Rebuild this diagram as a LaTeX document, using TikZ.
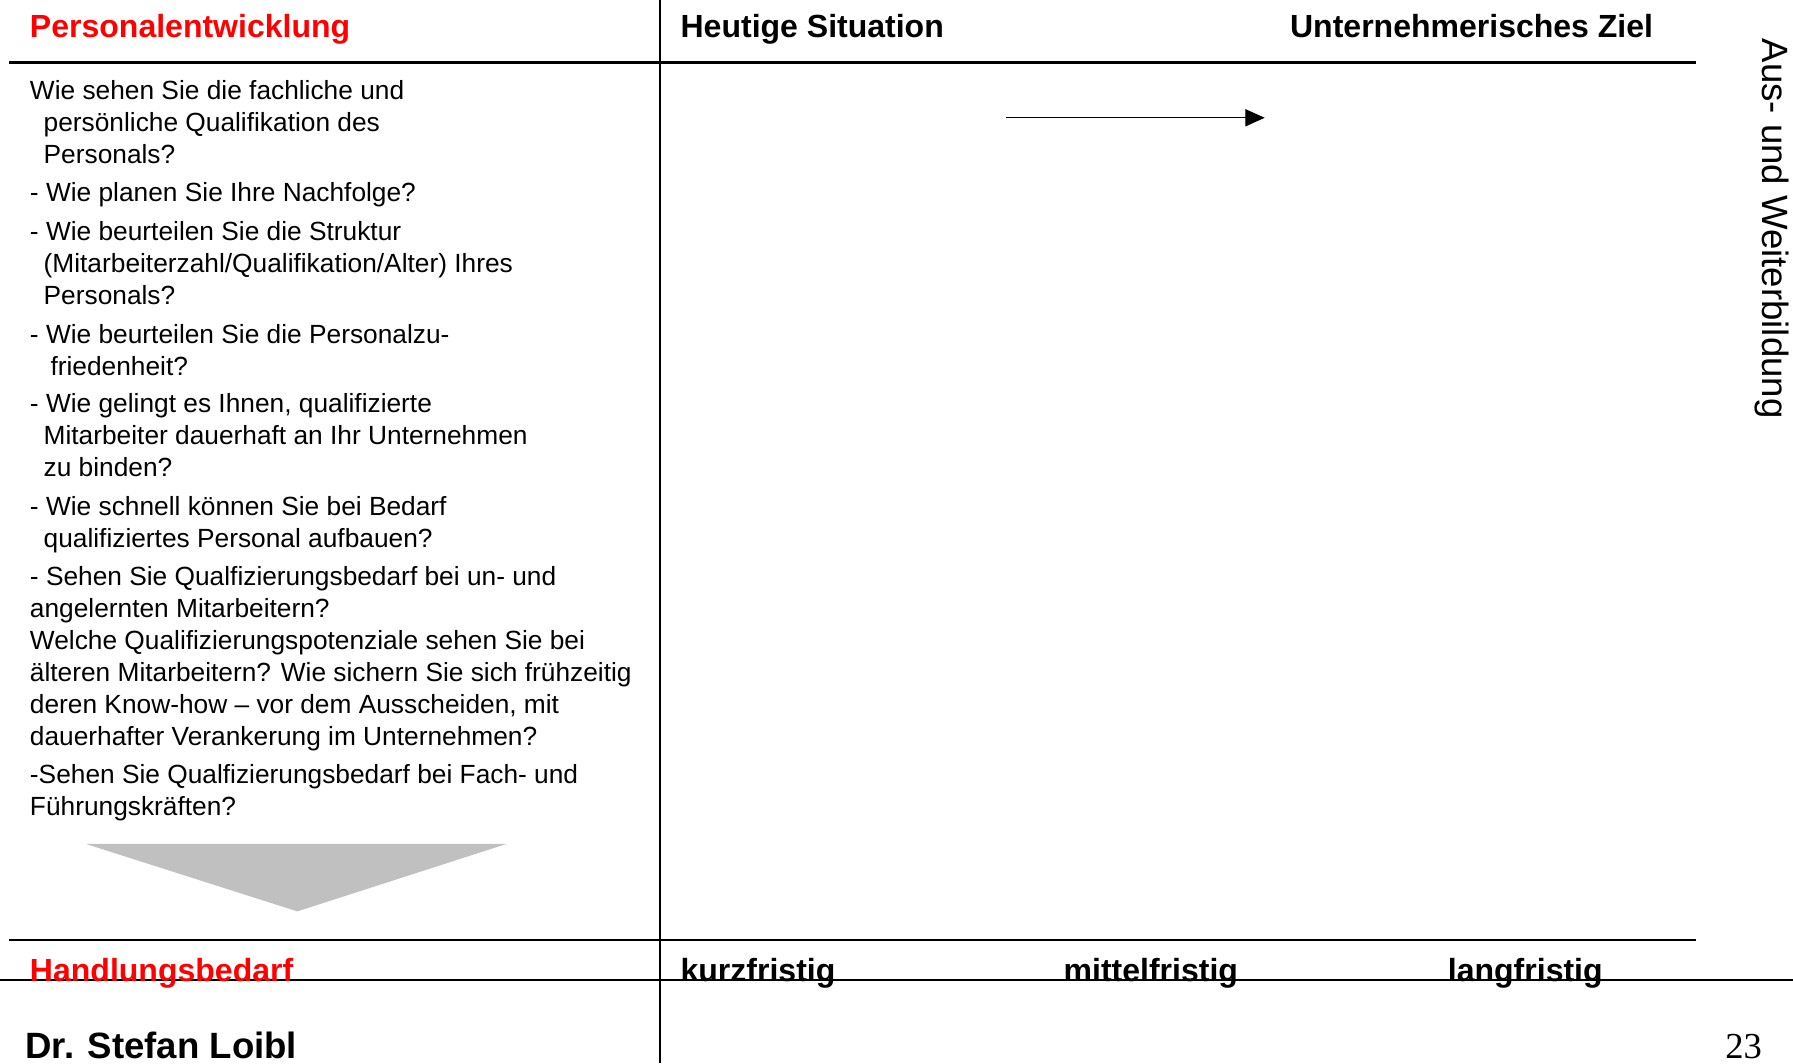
\documentclass[tikz,border=0pt]{standalone}
\usepackage{fontspec}
\setmainfont{Liberation Sans}
\newfontfamily\numfont{Liberation Serif}
\usetikzlibrary{arrows.meta}
\definecolor{hdred}{RGB}{255,0,0}
\definecolor{trigray}{RGB}{192,192,192}
\begin{document}
\begin{tikzpicture}[x=1pt,y=-1pt,
  body/.style={anchor=base west, inner sep=0pt, font=\fontsize{23}{28}\selectfont},
  head/.style={anchor=base west, inner sep=0pt, font=\fontsize{28}{32}\selectfont\bfseries},
  redhead/.style={head, text=hdred},
  rule/.style={line width=2.5pt},
  thinrule/.style={line width=1.3pt},
  arr/.style={line width=1.2pt, -{Triangle[length=17pt,width=15pt]}}]
\useasboundingbox (0,0) rectangle (1568,930);
\fill[white] (0,0) rectangle (1568,930);
% rules
\draw[rule] (8,55) -- (1483,55);
\draw[rule] (8,822) -- (1483,822);
\draw[thinrule] (0,857) -- (1568,857);
\draw[line width=2pt] (577,0) -- (577,930);
% headings
\node[redhead] (hpe) at (26,33) {Personalentwicklung};
\node[head] (hsit) at (595,33) {Heutige Situation};
\node[head] (hziel) at (1128,33) {Unternehmerisches Ziel};
\node[redhead] (hhb) at (26,858) {Handlungsbedarf};
\node[head] (hkurz) at (595,858) {kurzfristig};
\node[head] (hmit) at (930,858) {mittelfristig};
\node[head] (hlang) at (1266,858) {langfristig};
\node[anchor=base west, inner sep=0pt, font=\fontsize{32}{36}\selectfont\bfseries] (author) at (22,926) {Dr. Stefan Loibl};
\node[anchor=base east, inner sep=0pt, font=\fontsize{32}{36}\selectfont\numfont] (pnum) at (1541,926) {23};
\node[anchor=north, inner sep=0pt, rotate=-90, font=\fontsize{32}{36}\selectfont] (side) at (1565,200) {Aus- und Weiterbildung};
% body text
\node[body] (l1) at (26,87) {Wie sehen Sie die fachliche und};
\node[body] (l2) at (38,115) {persönliche Qualifikation des};
\node[body] (l3) at (38,143) {Personals?};
\node[body] (l4) at (26,176) {- Wie planen Sie Ihre Nachfolge?};
\node[body] (l5) at (26,210) {- Wie beurteilen Sie die Struktur};
\node[body] (l6) at (38,238) {(Mitarbeiterzahl/Qualifikation/Alter) Ihres};
\node[body] (l7) at (38,266) {Personals?};
\node[body] (l8) at (26,300) {- Wie beurteilen Sie die Personalzu-};
\node[body] (l9) at (44,328) {friedenheit?};
\node[body] (l10) at (26,361) {- Wie gelingt es Ihnen, qualifizierte};
\node[body] (l11) at (38,389) {Mitarbeiter dauerhaft an Ihr Unternehmen};
\node[body] (l12) at (38,417) {zu binden?};
\node[body] (l13) at (26,451) {- Wie schnell können Sie bei Bedarf};
\node[body] (l14) at (38,479) {qualifiziertes Personal aufbauen?};
\node[body] (l15) at (26,512) {- Sehen Sie Qualfizierungsbedarf bei un- und};
\node[body] (l16) at (26,540) {angelernten Mitarbeitern?};
\node[body] (l17) at (26,568) {Welche Qualifizierungspotenziale sehen Sie bei};
\node[body] (l18) at (26,596) {älteren Mitarbeitern? Wie sichern Sie sich frühzeitig};
\node[body] (l19) at (26,624) {deren Know-how – vor dem Ausscheiden, mit};
\node[body] (l20) at (26,652) {dauerhafter Verankerung im Unternehmen?};
\node[body] (l21) at (26,685) {-Sehen Sie Qualfizierungsbedarf bei Fach- und};
\node[body] (l22) at (26,713) {Führungskräften?};
% gray triangle
\fill[trigray] (75,738) -- (443,738) -- (260,797) -- cycle;
% arrow
\coordinate (as) at (880,103);
\coordinate (ae) at (1106,103);
\draw[arr] (as) -- (ae);
\end{tikzpicture}
\end{document}
